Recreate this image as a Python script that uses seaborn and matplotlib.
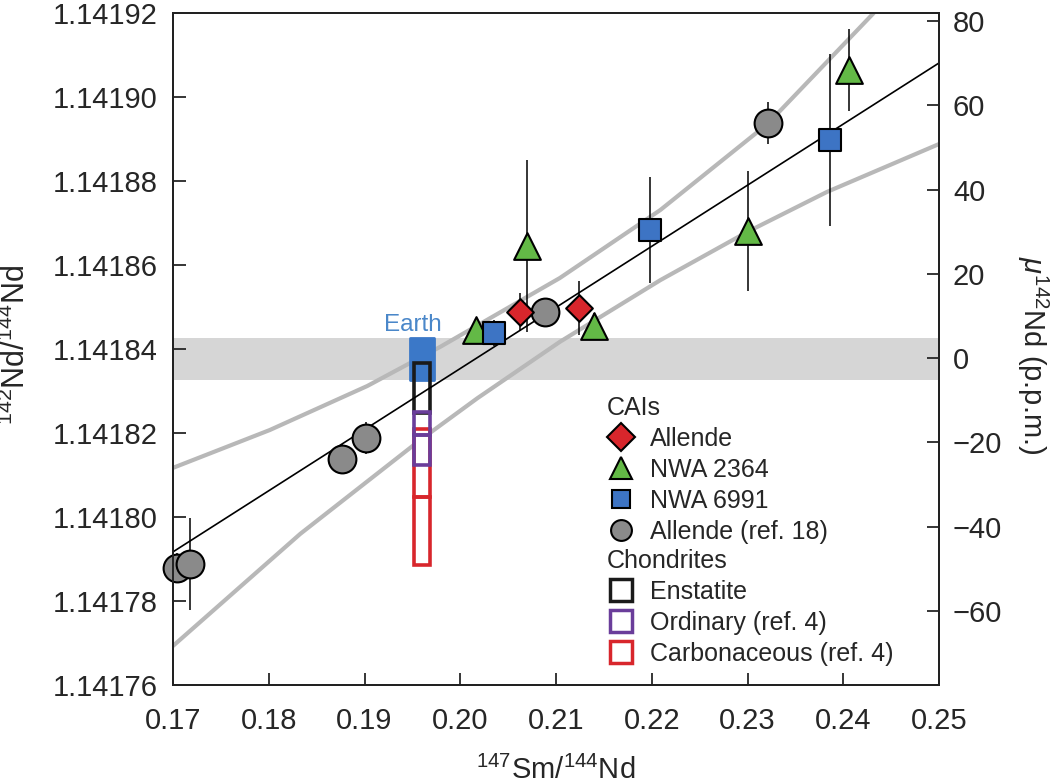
import matplotlib
matplotlib.use('Agg')
import matplotlib.pyplot as plt
from matplotlib.patches import Rectangle
from matplotlib.lines import Line2D
import seaborn as sns

# CAIs: 147Sm/144Nd, 142Nd/144Nd and error
allende_x = [0.2062, 0.2124]
allende_y = [1.1418488, 1.1418498]
allende_err = [0.0000045, 0.0000064]

nwa2364_x = [0.2016, 0.2070, 0.2140, 0.2300, 0.2406]
nwa2364_y = [1.1418445, 1.1418645, 1.1418455, 1.1418681, 1.1419064]
nwa2364_err = [0.000003, 0.0000205, 0.000003, 0.0000143, 0.0000098]

nwa6991_x = [0.2035, 0.2198, 0.2386]
nwa6991_y = [1.1418438, 1.1418683, 1.1418898]
nwa6991_err = [0.000003, 0.0000126, 0.0000205]

ref18_x = [0.1704, 0.1718, 0.1876, 0.1902, 0.2089, 0.2321]
ref18_y = [1.1417879, 1.1417888, 1.1418138, 1.1418188, 1.1418488, 1.1418938]
ref18_err = [0.0000036, 0.000011, 0.0000036, 0.0000038, 0.000002, 0.0000051]

# isochron and its envelope
iso_x = [0.17, 0.25]
iso_y = [1.1417917, 1.1419081]
upper_x = [0.1700, 0.1801, 0.1903, 0.1979, 0.2104, 0.2209, 0.2321, 0.2431, 0.2459]
upper_y = [1.1418117, 1.1418207, 1.1418312, 1.1418405, 1.1418569, 1.1418731, 1.1418936, 1.1419198, 1.1419279]
lower_x = [0.1700, 0.1833, 0.1958, 0.2018, 0.2104, 0.2209, 0.2300, 0.2383, 0.2500]
lower_y = [1.1417693, 1.1417960, 1.1418183, 1.1418283, 1.1418417, 1.1418564, 1.1418679, 1.1418774, 1.1418888]

# Earth and chondrites (at 147Sm/144Nd = 0.196)
chondrite_x = 0.196
earth_range = (1.1418326, 1.1418426)
enstatite = [(1.1418248, 1.1418367)]
ordinary = [(1.1418195, 1.1418250), (1.1418124, 1.1418195)]
carbonaceous = [(1.1418048, 1.1418210), (1.1417886, 1.1418048)]

x_ticks = [0.17, 0.18, 0.19, 0.20, 0.21, 0.22, 0.23, 0.24, 0.25]
y_ticks = [1.14176, 1.14178, 1.14180, 1.14182, 1.14184, 1.14186, 1.14188, 1.14190, 1.14192]
mu_ticks = [-60, -40, -20, 0, 20, 40, 60, 80]

red = '#d8262c'
green = '#63b946'
blue = '#3d74c4'
grey = '#8a8a8a'
purple = '#6a3d9a'
black = '#1a1a1a'

sns.set_style('ticks')
plt.rcParams['font.family'] = ['Liberation Sans', 'DejaVu Sans']
plt.rcParams['mathtext.fontset'] = 'custom'
plt.rcParams['mathtext.rm'] = 'Liberation Sans'
plt.rcParams['mathtext.it'] = 'Liberation Sans:italic'
plt.rcParams['mathtext.bf'] = 'Liberation Sans:bold'

fig = plt.figure(figsize=(10.5, 7.84), dpi=100)
ax = fig.add_axes([173 / 1050, 1 - 685 / 784, 766 / 1050, 672 / 784])

ax.axhspan(earth_range[0], earth_range[1], color='#d6d6d6', lw=0, zorder=0.5)
sns.lineplot(x=upper_x, y=upper_y, ax=ax, color='#b8b8b8', lw=3, sort=False, zorder=1.5)
sns.lineplot(x=lower_x, y=lower_y, ax=ax, color='#b8b8b8', lw=3, sort=False, zorder=1.5)
sns.lineplot(x=iso_x, y=iso_y, ax=ax, color='black', lw=1.2, zorder=3)

# chondrite column
bw = 0.00167
x0 = chondrite_x - bw / 2
col_lo = carbonaceous[-1][0]
col_hi = enstatite[0][1]
ax.add_patch(Rectangle((x0, col_lo), bw, col_hi - col_lo, facecolor='white', edgecolor='none', zorder=2))
ax.add_patch(Rectangle((chondrite_x - 0.00128, earth_range[0]), 0.00256, earth_range[1] - earth_range[0],
                       facecolor='#3b78c8', edgecolor='#3b78c8', lw=2, joinstyle='round', zorder=2.2))
for boxes, c, z in [(carbonaceous, red, 2.4), (enstatite, black, 2.5), (ordinary, purple, 2.6)]:
    for lo, hi in boxes:
        ax.add_patch(Rectangle((x0, lo), bw, hi - lo, facecolor='none', edgecolor=c, lw=2.6, zorder=z))

ax.text(0.1950, 1.1418458, 'Earth', color='#4a87c9', fontsize=17.5, ha='center', va='center')


def draw_group(x, y, err, marker, color, size):
    ax.errorbar(x, y, yerr=err, fmt='none', ecolor='black', elinewidth=1.1, capsize=0, zorder=4)
    sns.scatterplot(x=x, y=y, ax=ax, marker=marker, color=color, s=size, edgecolor='black',
                    linewidth=1.5, zorder=5, clip_on=False, legend=False)


draw_group(ref18_x, ref18_y, ref18_err, 'o', grey, 400)
draw_group(nwa2364_x, nwa2364_y, nwa2364_err, '^', green, 370)
draw_group(nwa6991_x, nwa6991_y, nwa6991_err, 's', blue, 256)
draw_group(allende_x, allende_y, allende_err, 'D', red, 185)

ax.set_xlim(0.17, 0.25)
ax.set_ylim(1.14176, 1.14192)
ax.set_xticks(x_ticks)
ax.set_xticklabels([f'{t:.2f}' for t in x_ticks])
ax.set_yticks(y_ticks)
ax.set_yticklabels([f'{t:.5f}' for t in y_ticks])
ax.tick_params(axis='y', direction='in', length=9, width=1.3, labelsize=21, pad=11, right=False)
ax.tick_params(axis='x', direction='in', length=9, width=1.3, labelsize=21, pad=16, top=False)
for s in ax.spines.values():
    s.set_linewidth(1.4)
    s.set_color('#222222')

ax.set_xlabel(r'$^{147}$Sm/$^{144}$Nd', fontsize=21, va='top')
ax.xaxis.set_label_coords(0.5, -0.106)
ax.set_ylabel(r'$^{142}$Nd/$^{144}$Nd', fontsize=22, va='center')
ax.yaxis.set_label_coords(-0.204, 0.506)

ax2 = ax.twinx()
ax2.set_ylim(-77.6, 81.9)
ax2.set_yticks(mu_ticks)
ax2.tick_params(axis='y', direction='in', length=9, width=1.3, labelsize=21, pad=10)
for s in ax2.spines.values():
    s.set_linewidth(1.4)
    s.set_color('#222222')
ax2.set_ylabel(r'$\mu^{142}$Nd (p.p.m.)', fontsize=21, rotation=-90, va='center')
ax2.yaxis.set_label_coords(1.1227, 0.49)

# legends
cai_handles = [
    Line2D([], [], ls='none', marker='D', ms=14, mfc=red, mec='black', mew=1.5, label='Allende'),
    Line2D([], [], ls='none', marker='^', ms=16, mfc=green, mec='black', mew=1.5, label='NWA 2364'),
    Line2D([], [], ls='none', marker='s', ms=13, mfc=blue, mec='black', mew=1.5, label='NWA 6991'),
    Line2D([], [], ls='none', marker='o', ms=15, mfc=grey, mec='black', mew=1.5, label='Allende (ref. 18)'),
]
chon_handles = [
    Line2D([], [], ls='none', marker='s', ms=15.5, mfc='white', mec=black, mew=2.5, label='Enstatite'),
    Line2D([], [], ls='none', marker='s', ms=15.5, mfc='white', mec=purple, mew=2.5, label='Ordinary (ref. 4)'),
    Line2D([], [], ls='none', marker='s', ms=15.5, mfc='white', mec=red, mew=2.5, label='Carbonaceous (ref. 4)'),
]
leg_kw = dict(loc='upper left', bbox_transform=fig.transFigure, frameon=False, fontsize=18,
              title_fontsize=18, alignment='left', borderpad=0, borderaxespad=0,
              handlelength=1.1, handletextpad=0.6, labelspacing=0.28)
leg1 = ax2.legend(handles=cai_handles, title='CAIs', bbox_to_anchor=(607 / 1050, 1 - 396 / 784), **leg_kw)
ax2.add_artist(leg1)
ax2.legend(handles=chon_handles, title='Chondrites', bbox_to_anchor=(607 / 1050, 1 - 549 / 784), **leg_kw)

fig.savefig('out.png', dpi=100)
